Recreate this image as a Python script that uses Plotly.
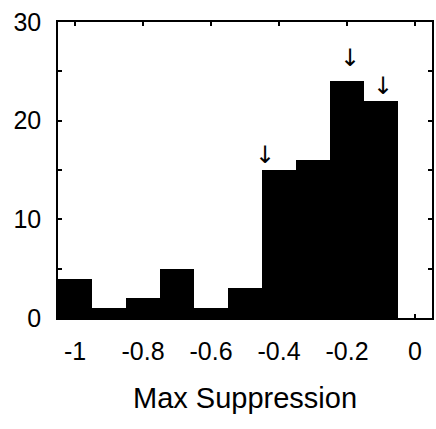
import plotly.graph_objects as go

bin_centers = [-1.0, -0.9, -0.8, -0.7, -0.6, -0.5, -0.4, -0.3, -0.2, -0.1]
counts = [4, 1, 2, 5, 1, 3, 15, 16, 24, 22]
bin_width = 0.1

arrow_x = [-0.44, -0.19, -0.095]
arrow_y = [15.2, 25.0, 22.2]

x_tickvals = [-1, -0.8, -0.6, -0.4, -0.2, 0]
x_ticktext = ["-1", "-0.8", "-0.6", "-0.4", "-0.2", "0"]
y_tickvals = [0, 10, 20, 30]

fig = go.Figure()
fig.add_trace(go.Bar(
    x=bin_centers, y=counts, width=[bin_width] * len(counts),
    marker=dict(color="black", line=dict(width=0)),
    showlegend=False,
))

for ax, ay in zip(arrow_x, arrow_y):
    fig.add_annotation(
        x=ax, y=ay, xref="x", yref="y",
        text="↓", showarrow=False, yanchor="bottom", yshift=-3,
        font=dict(size=24, color="black", family="DejaVu Sans"),
    )

font_family = "Liberation Sans, Arial, sans-serif"
fig.update_layout(
    width=436, height=429,
    margin=dict(l=58, r=2, t=22, b=111),
    paper_bgcolor="white", plot_bgcolor="white",
    bargap=0,
    font=dict(family=font_family, size=25, color="black"),
    xaxis=dict(
        range=[-1.05, 0.05],
        tickvals=x_tickvals, ticktext=x_ticktext,
        ticks="inside", ticklen=4, tickwidth=1.5, tickcolor="black",
        showline=True, linecolor="black", linewidth=1.5, mirror="ticks",
        showgrid=False, zeroline=False,
        tickfont=dict(size=25), ticklabelstandoff=10,
        title=dict(text="Max Suppression", font=dict(size=29), standoff=24),
    ),
    yaxis=dict(
        range=[0, 30],
        tickvals=y_tickvals,
        ticks="inside", ticklen=4, tickwidth=1.5, tickcolor="black",
        showline=True, linecolor="black", linewidth=1.5, mirror="ticks",
        showgrid=False, zeroline=False,
        tickfont=dict(size=25), ticklabelstandoff=10,
        minor=dict(dtick=5, ticks="inside", ticklen=4, tickcolor="black", showgrid=False),
    ),
)

fig.write_html("out.html")
